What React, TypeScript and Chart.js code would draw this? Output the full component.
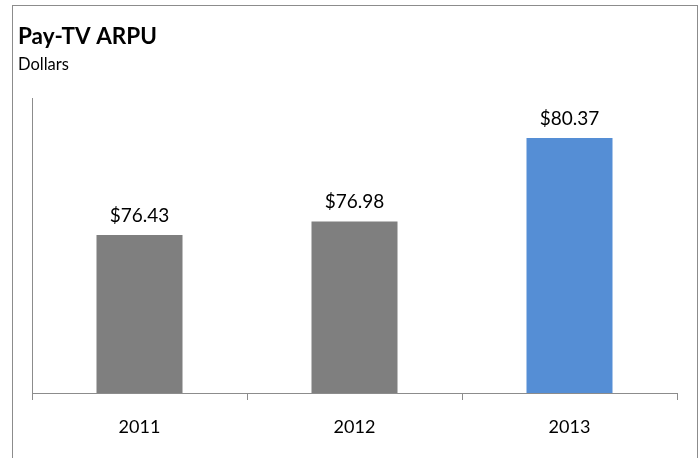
import React, { useEffect, useRef } from "react";
import { Chart, registerables } from "chart.js";

Chart.register(...registerables);

const categories = ["2011", "2012", "2013"];
const values = [76.43, 76.98, 80.37];
const valueLabels = ["$76.43", "$76.98", "$80.37"];
const barColors = ["#7f7f7f", "#7f7f7f", "#558ed5"];
const yMin = 70;
const yMax = 82;
const titleText = "Pay-TV ARPU";
const subtitleText = "Dollars";

const FONT = "Lato, 'Open Sans', sans-serif";

export default function App() {
  const ref = useRef<HTMLCanvasElement | null>(null);

  useEffect(() => {
    if (!ref.current) return;
    const decor = {
      id: "decor",
      beforeDraw(chart: any) {
        const ctx = chart.ctx;
        ctx.save();
        ctx.fillStyle = "#ffffff";
        ctx.fillRect(0, 0, chart.width, chart.height);
        ctx.strokeStyle = "#8c8c8c";
        ctx.lineWidth = 1;
        ctx.strokeRect(12.5, 5.5, 685, 470);
        ctx.fillStyle = "#000";
        ctx.textAlign = "left";
        ctx.textBaseline = "alphabetic";
        ctx.font = `bold 22.5px ${FONT}`;
        ctx.fillText(titleText, 18, 44);
        ctx.font = `16.5px ${FONT}`;
        ctx.fillText(subtitleText, 18, 70);
        ctx.restore();
      },
      afterDatasetsDraw(chart: any) {
        const ctx = chart.ctx;
        const meta = chart.getDatasetMeta(0);
        ctx.save();
        ctx.fillStyle = "#000";
        ctx.textAlign = "center";
        ctx.textBaseline = "alphabetic";
        ctx.font = `19px ${FONT}`;
        meta.data.forEach((el: any, i: number) => {
          ctx.fillText(valueLabels[i], el.x, el.y - 13);
        });
        ctx.restore();
      },
    };

    const chart = new Chart(ref.current, {
      type: "bar",
      data: {
        labels: categories,
        datasets: [
          {
            data: values,
            backgroundColor: barColors,
            borderWidth: 0,
            barPercentage: 0.4,
            categoryPercentage: 1,
          },
        ],
      },
      options: {
        responsive: false,
        animation: false,
        layout: { padding: { left: 32, right: 21, top: 98, bottom: 0 } },
        plugins: {
          legend: { display: false },
          title: { display: false },
          tooltip: { enabled: false },
        },
        scales: {
          x: {
            grid: {
              display: true,
              drawOnChartArea: false,
              drawTicks: true,
              tickLength: 7,
              color: "#8c8c8c",
              offset: true,
            },
            border: { display: true, color: "#8c8c8c" },
            ticks: {
              color: "#000",
              font: { family: FONT, size: 18 },
              padding: 16,
            },
            afterFit(scale: any) {
              scale.height = 65;
            },
          },
          y: {
            min: yMin,
            max: yMax,
            grid: { display: false },
            border: { display: true, color: "#8c8c8c" },
            ticks: { display: false },
            afterFit(scale: any) {
              scale.width = 0;
            },
          },
        },
      },
      plugins: [decor],
    });
    return () => chart.destroy();
  }, []);

  return (
    <div style={{ position: "fixed", left: 0, top: 0, width: 698, height: 458, background: "#fff" }}>
      <canvas ref={ref} width={698} height={458} style={{ display: "block" }} />
    </div>
  );
}
